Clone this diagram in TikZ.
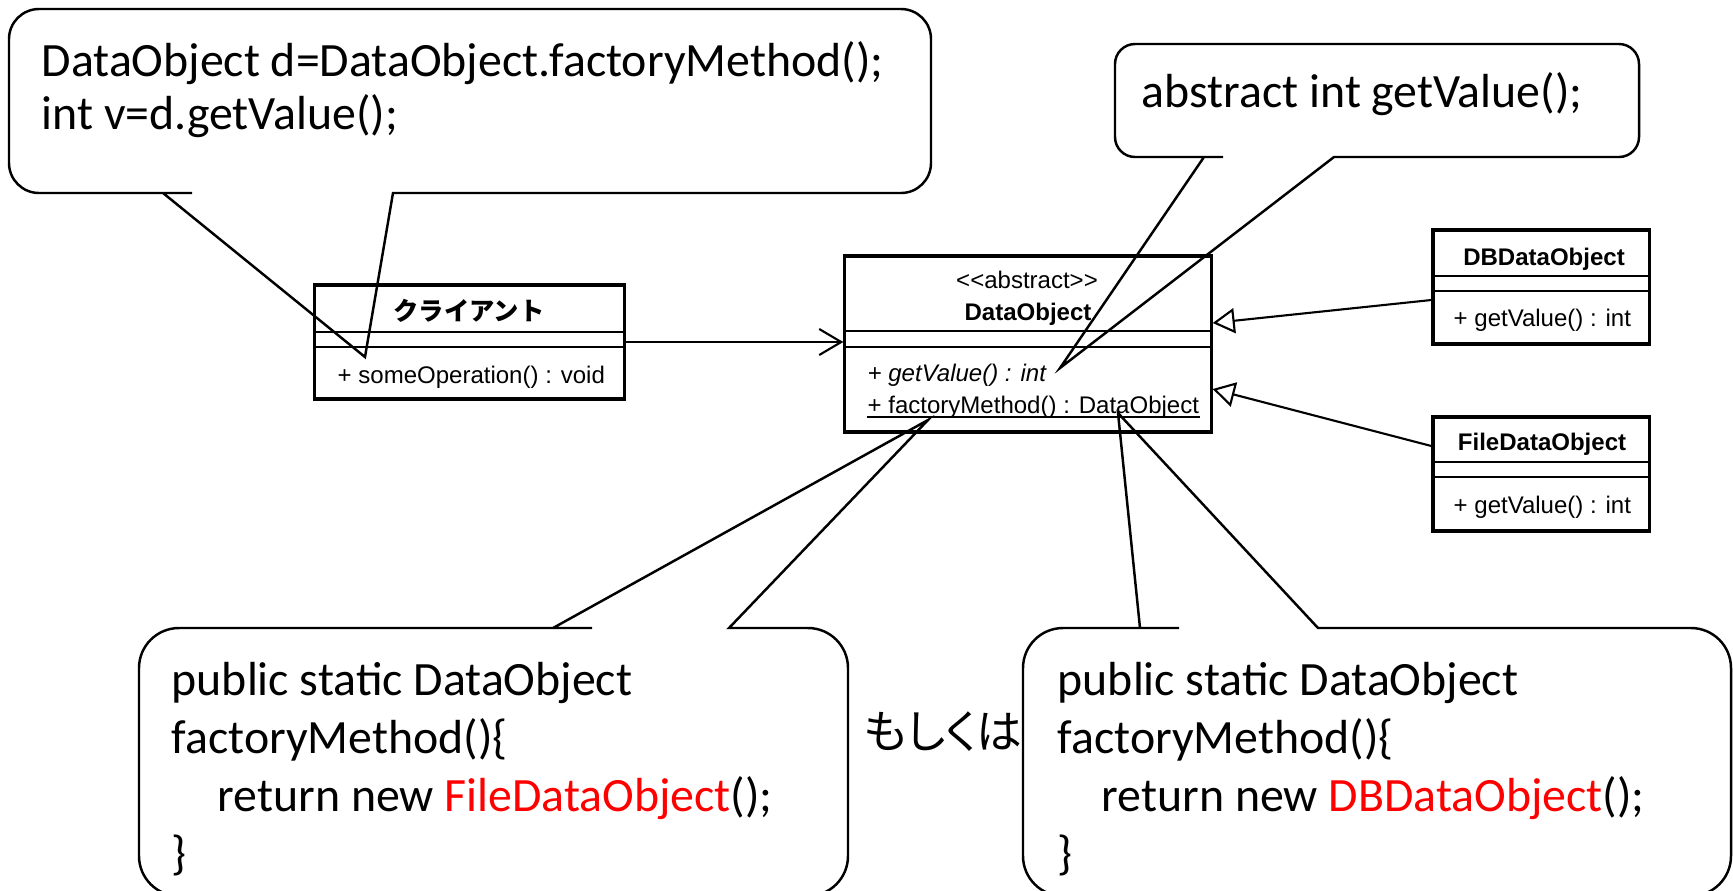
\documentclass[tikz,border=0pt]{standalone}
\usepackage{fontspec}
\setmainfont{Carlito}
\newfontfamily\umlfont{Liberation Sans}
\newfontfamily\jpfont{Noto Sans CJK JP}
\newfontfamily\jpsfont{Noto Sans CJK JP}[RawFeature=+palt]
\usetikzlibrary{arrows.meta,calc}

\tikzset{
  cls/.style={draw, line width=0.9pt, inner sep=0pt},
  comp/.style={line width=0.45pt},
  umltxt/.style={inner sep=0pt, font=\umlfont\fontsize{6.83pt}{8pt}\selectfont},
  code/.style={inner sep=0pt, anchor=base west, font=\fontsize{13.6pt}{16pt}\selectfont},
  callout/.style={line width=0.7pt},
  assoc/.style={line width=0.6pt, -{Straight Barb[length=0.22cm,width=0.26cm]}},
  gen/.style={line width=0.6pt, -{Triangle[open,length=0.22cm,width=0.25cm]}},
}

\begin{document}
\begin{tikzpicture}[x=0.01cm,y=-0.01cm]
	\useasboundingbox (0,0) rectangle (1733,890);

	% client class
	\node[cls, minimum width=3.09cm, minimum height=1.14cm] (client) at (469.5,342) {};
	\draw[comp] (client.west |- 0,332) -- (client.east |- 0,332);
	\draw[comp] (client.west |- 0,347) -- (client.east |- 0,347);
	\node[umltxt] (clientname) at (469,311) {\jpfont\bfseries\fontsize{7.2pt}{8pt}\selectfont クライアント};
	\node[umltxt, anchor=base west] (clientop) at (337,383) {+ someOperation() : void};

	% abstract class
	\node[cls, minimum width=3.66cm, minimum height=1.76cm] (dataobj) at (1028,344) {};
	\draw[comp] (dataobj.west |- 0,331) -- (dataobj.east |- 0,331);
	\draw[comp] (dataobj.west |- 0,347) -- (dataobj.east |- 0,347);
	\node[umltxt, anchor=base] (stereo) at (1027,288) {<\kern0pt<abstract>\kern0pt>};
	\node[umltxt, anchor=base] (dataname) at (1028,320) {\bfseries DataObject};
	\node[umltxt, anchor=base west] (getval) at (867,381) {\itshape + getValue() : int};
	\node[umltxt, anchor=base west] (factory) at (867,413) {+ factoryMethod() : DataObject};
	\draw[comp] ($(factory.base west)+(0,4)$) -- ($(factory.base east)+(0,4)$);

	% subclasses
	\node[cls, minimum width=2.16cm, minimum height=1.14cm] (db) at (1541,287) {};
	\draw[comp] (db.west |- 0,276) -- (db.east |- 0,276);
	\draw[comp] (db.west |- 0,291) -- (db.east |- 0,291);
	\node[umltxt, anchor=base] (dbname) at (1544,265) {\bfseries DBDataObject};
	\node[umltxt, anchor=base west] (dbop) at (1453,326) {+ getValue() : int};

	\node[cls, minimum width=2.16cm, minimum height=1.14cm] (file) at (1541,474) {};
	\draw[comp] (file.west |- 0,462) -- (file.east |- 0,462);
	\draw[comp] (file.west |- 0,477) -- (file.east |- 0,477);
	\node[umltxt, anchor=base] (filename) at (1542,450) {\bfseries FileDataObject};
	\node[umltxt, anchor=base west] (fileop) at (1453,513) {+ getValue() : int};

	% relations
	\draw[assoc] (client.east) -- (client.east -| dataobj.west);
	\draw[gen] ($(db.west)+(0,13)$) -- ($(dataobj.east)+(0,-21)$);
	\draw[gen] ($(file.west)+(0,-28)$) -- ($(dataobj.east)+(0,45)$);

	% callouts
	\coordinate (tipuse) at (365,357);
	\coordinate (tipabs) at (1060,368);
	\coordinate (tipfa) at (928,420);
	\coordinate (tipfb) at (1118,413);
	\draw[callout] (tipuse) -- (393,193) -- (394,193) [rounded corners=0.3cm] -- (931,193) -- (931,9) -- (9,9) -- (9,193) -- (162,193) [sharp corners] -- (163,193) -- cycle;
	\draw[callout] (tipabs) -- (1334,157) -- (1335,157) [rounded corners=0.2cm] -- (1639,157) -- (1639,44) -- (1115,44) -- (1115,157) -- (1203,157) [sharp corners] -- (1204,157) -- cycle;
	\draw[callout] (tipfa) -- (729,628) -- (730,628) [rounded corners=0.4cm] -- (848,628) -- (848,896) -- (139,896) -- (139,628) -- (552,628) [sharp corners] -- (553,628) -- cycle;
	\draw[callout] (tipfb) -- (1318,628) -- (1319,628) [rounded corners=0.4cm] -- (1731,628) -- (1731,896) -- (1023,896) -- (1023,628) -- (1139,628) [sharp corners] -- (1140,628) -- cycle;

	\node[code] (use1) at (41,76) {DataObject d=DataObject.factoryMethod();};
	\node[code] (use2) at (41,129) {int v=d.getValue();};
	\node[code] (abs1) at (1141,107) {abstract int getValue();};

	\node[code] (fa1) at (171,695) {public static DataObject};
	\node[code] (fa2) at (171,753) {factoryMethod()\{};
	\node[code] (fa3) at (217,811) {return new \textcolor{red}{FileDataObject}();};
	\node[code] (fa4) at (171,869) {\}};

	\node[code] (fb1) at (1057,695) {public static DataObject};
	\node[code] (fb2) at (1057,753) {factoryMethod()\{};
	\node[code] (fb3) at (1101,811) {return new \textcolor{red}{DBDataObject}();};
	\node[code] (fb4) at (1057,869) {\}};

	\node[inner sep=0pt, font=\jpsfont\fontsize{13pt}{16pt}\selectfont] (orword) at (943,732) {もしくは};
\end{tikzpicture}
\end{document}
